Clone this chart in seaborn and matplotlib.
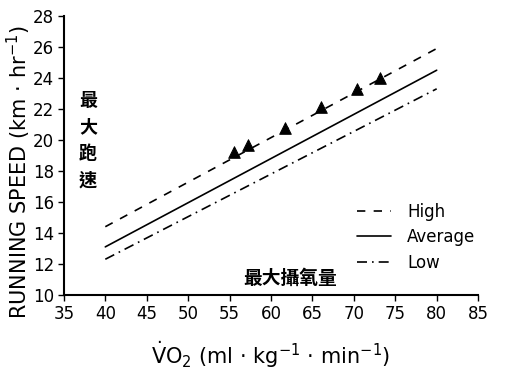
import numpy as np
import pandas as pd
import matplotlib
matplotlib.use("Agg")
import matplotlib.pyplot as plt
import seaborn as sns

# regression lines: speed at VO2 = 40 and 80
line_x = [40, 80]
high_y = [14.4, 25.9]
avg_y = [13.1, 24.5]
low_y = [12.3, 23.3]

# observed points (triangles)
pts_x = [55.5, 57.2, 61.7, 66.0, 70.4, 73.2]
pts_y = [19.2, 19.7, 20.8, 22.1, 23.3, 24.0]

groups = ["High", "Average", "Low"]

sns.set_theme(style="ticks", rc={"text.color": "black", "axes.labelcolor": "black",
                                 "xtick.color": "black", "ytick.color": "black"})
plt.rcParams['font.family'] = ['DejaVu Sans', 'Noto Sans CJK TC']

df = pd.DataFrame({
    "x": line_x * 3,
    "y": high_y + avg_y + low_y,
    "group": [g for g in groups for _ in line_x],
})
pts = pd.DataFrame({"x": pts_x, "y": pts_y})

fig = plt.figure(figsize=(5.07, 3.81), dpi=100)
ax = fig.add_axes([0.126, 0.226, 0.817, 0.732])

styles = {"High": (0, (5, 5)), "Average": "-", "Low": (0, (6, 3, 1, 3))}
for g in groups:
    sub = df[df["group"] == g]
    sns.lineplot(data=sub, x="x", y="y", ax=ax, color="black", lw=1.2,
                 linestyle=styles[g], label=g)

sns.scatterplot(data=pts, x="x", y="y", ax=ax, marker="^", color="black",
                s=70, edgecolor="black", legend=False)

ax.set_xlim(35, 85)
ax.set_ylim(10, 28)
ax.set_xticks(np.arange(35, 86, 5))
ax.set_yticks(np.arange(10, 29, 2))
ax.tick_params(labelsize=12, length=4, width=1, color="black", pad=3)
for s in ["left", "bottom"]:
    ax.spines[s].set_linewidth(1.5)
    ax.spines[s].set_color("black")
sns.despine(ax=ax)

ax.set_xlabel(r"$\dot{\rm V}$O$_2$ (ml · kg$^{-1}$ · min$^{-1}$)", fontsize=15, labelpad=12)
ax.set_ylabel(r"RUNNING SPEED (km · hr$^{-1}$)", fontsize=15)
ax.yaxis.set_label_coords(-0.075, 0.44)

ax.legend(loc="lower right", bbox_to_anchor=(1.03, 0.03), frameon=False,
          fontsize=12, handlelength=2.0, labelspacing=0.45, handletextpad=1.0)

ax.text(0.058, 0.556, "最\n大\n跑\n速", transform=ax.transAxes, fontsize=13,
        family=['Noto Sans CJK TC'], fontweight="bold", va="center", ha="center",
        linespacing=1.5)
ax.text(0.546, 0.06, "最大攝氧量", transform=ax.transAxes, fontsize=13.5,
        family=['Noto Sans CJK TC'], fontweight="bold", va="center", ha="center")

fig.savefig("out.png", dpi=100)
